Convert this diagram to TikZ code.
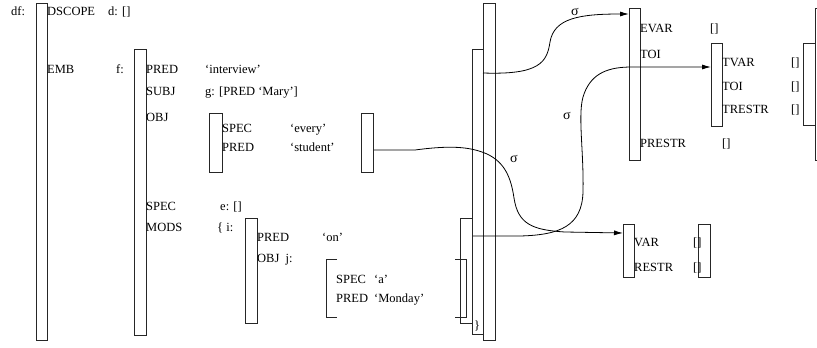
\documentclass[tikz,border=0pt]{standalone}
\usepackage{fontspec}
\setmainfont{Liberation Serif}
\usetikzlibrary{arrows.meta}
\begin{document}
\begin{tikzpicture}[x=1pt,y=-1pt,
  fbox/.style={draw=black!85, line width=0.8pt, inner sep=0pt, anchor=north west},
  lbl/.style={anchor=base west, inner sep=0pt, font=\fontsize{12.5}{14}\selectfont},
  sig/.style={inner sep=0pt, font=\fontsize{14}{16}\selectfont},
  conn/.style={draw=black, line width=0.8pt},
  arr/.style={conn, -{Latex[length=9pt,width=5pt]}}]
\useasboundingbox (0,0) rectangle (817,348);
\clip (0,0) rectangle (817,348);
% boxes
\node[fbox, minimum width=11pt, minimum height=337pt] (df) at (36,3) {};
\node[fbox, minimum width=12pt, minimum height=286pt] (f) at (134,49) {};
\node[fbox, minimum width=13pt, minimum height=59pt] (objL) at (209,113) {};
\node[fbox, minimum width=12pt, minimum height=59pt] (objR) at (361,113) {};
\node[fbox, minimum width=12pt, minimum height=105pt] (ibox) at (245,218) {};
\node[fbox, minimum width=12pt, minimum height=105pt] (mods) at (460,218) {};
\node[fbox, minimum width=11pt, minimum height=285pt] (boxA) at (472,49) {};
\node[fbox, minimum width=12pt, minimum height=337pt] (boxB) at (483,3) {};
\node[fbox, minimum width=11pt, minimum height=152pt] (evar) at (629,8) {};
\node[fbox, minimum width=11pt, minimum height=83pt] (tvar) at (711,43) {};
\node[fbox, minimum width=12pt, minimum height=82pt] (tvarR) at (803,43) {};
\node[fbox, minimum width=20pt, minimum height=152pt] (far) at (815,8) {};
\node[fbox, minimum width=11pt, minimum height=53pt] (var) at (623,224) {};
\node[fbox, minimum width=12pt, minimum height=53pt] (varR) at (698,224) {};
% j brackets
\draw[draw=black!85, line width=0.8pt] (337,259) -- (326,259) -- (326,317) -- (337,317);
\draw[draw=black!85, line width=0.8pt] (455,259) -- (466,259) -- (466,317) -- (455,317);
% texts left
\node[lbl] (tdf) at (11,16) {df:};
\node[lbl] (tdscope) at (47,16) {DSCOPE};
\node[lbl] (td) at (108,16) {d: []};
\node[lbl] (temb) at (47,73) {EMB};
\node[lbl] (tf) at (116,73) {f:};
\node[lbl] (tpred) at (146,73) {PRED};
\node[lbl] (tinterview) at (205,73) {‘interview’};
\node[lbl] (tsubj) at (146,95) {SUBJ};
\node[lbl] (tg) at (205,95) {g: [PRED ‘Mary’]};
\node[lbl] (tobj) at (146,121) {OBJ};
\node[lbl] (tspec1) at (222,132) {SPEC};
\node[lbl] (tevery) at (290,132) {‘every’};
\node[lbl] (tpred1) at (222,151) {PRED};
\node[lbl] (tstudent) at (290,151) {‘student’};
\node[lbl] (tspec) at (146,210) {SPEC};
\node[lbl] (te) at (220,210) {e: []};
\node[lbl] (tmods) at (146,231) {MODS};
\node[lbl] (ti) at (217,231) {\{ i:};
\node[lbl] (tpredon) at (257,241) {PRED};
\node[lbl] (ton) at (322,241) {‘on’};
\node[lbl] (tobjj) at (257,262) {OBJ\ \ j:};
\node[lbl] (tspeca) at (336,283) {SPEC};
\node[lbl] (ta) at (374,283) {‘a’};
\node[lbl] (tpredm) at (336,302) {PRED};
\node[lbl] (tmonday) at (374,302) {‘Monday’};
\node[lbl] (tbrace) at (474,329) {\}};
% texts right
\node[lbl] (tevar) at (640,32) {EVAR};
\node[lbl] (tevarv) at (710,32) {[]};
\node[lbl] (ttoi) at (640,58) {TOI};
\node[lbl] (tprestr) at (640,147) {PRESTR};
\node[lbl] (tprestrv) at (722,147) {[]};
\node[lbl] (ttvar) at (722,66) {TVAR};
\node[lbl] (ttvarv) at (791,66) {[]};
\node[lbl] (ttoi2) at (722,90) {TOI};
\node[lbl] (ttoi2v) at (791,90) {[]};
\node[lbl] (ttrestr) at (722,113) {TRESTR};
\node[lbl] (ttrestrv) at (791,113) {[]};
\node[lbl] (tvarl) at (634,246) {VAR};
\node[lbl] (tvarv) at (693,246) {[]};
\node[lbl] (trestr) at (634,271) {RESTR};
\node[lbl] (trestrv) at (693,271) {[]};
% sigma labels
\node[sig] (s1) at (575,12) {σ};
\node[sig] (s2) at (567,116) {σ};
\node[sig] (s3) at (514,159) {σ};
% connectors
\draw[arr] ([yshift=-70pt]boxB.north west) .. controls (540,75) and (547,62) .. (550,42)
  .. controls (554,18) and (580,14) .. ([yshift=-6pt]evar.north west);
\draw[arr] ([yshift=-7pt]objR.east) -- (415,150) .. controls (445,146) and (465,146) .. (482,152)
  .. controls (505,160) and (511,178) .. (514,198)
  .. controls (518,224) and (532,230) .. (565,232) -- ([yshift=-9pt]var.north west);
\draw[arr] ([yshift=-18pt]mods.north east) -- (520,236) .. controls (560,235) and (582,226) .. (583,192)
  .. controls (584,150) and (577,112) .. (584,94)
  .. controls (592,72) and (610,67) .. (632,67) -- ([yshift=-24pt]tvar.north west);
\end{tikzpicture}
\end{document}
